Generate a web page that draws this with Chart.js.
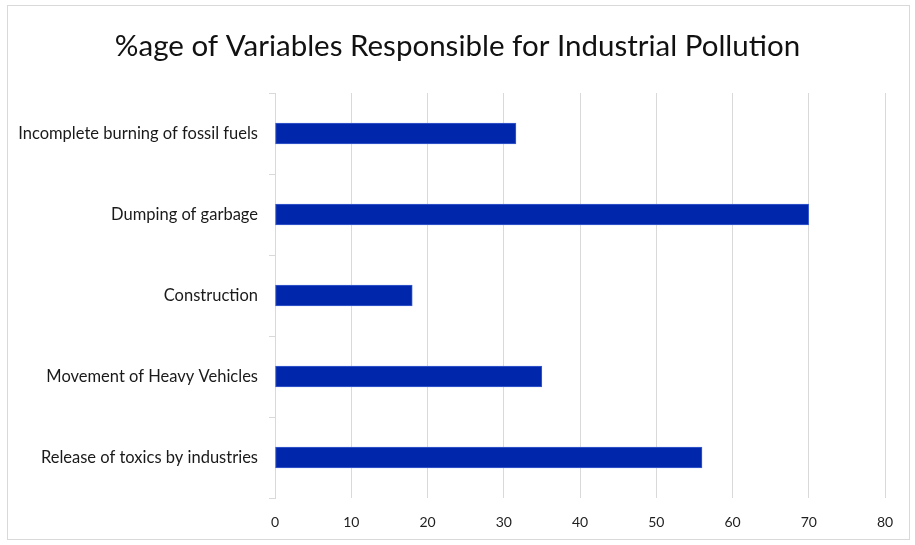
<!DOCTYPE html>
<html>
<head>
<meta charset="utf-8">
<script src="https://cdn.jsdelivr.net/npm/chart.js@4.4.1/dist/chart.umd.min.js"></script>
<style>
  html, body { margin: 0; padding: 0; background: #ffffff; }
  #wrap { position: relative; width: 915px; height: 545px; }
  #frame {
    position: absolute; left: 7px; top: 5px; width: 903px; height: 535px;
    border: 1px solid #d9d9d9; box-sizing: border-box;
  }
  #chart { position: absolute; left: 0; top: 0; }
</style>
</head>
<body>
<div id="wrap">
  <div id="frame"></div>
  <canvas id="chart" width="915" height="545"></canvas>
</div>
<script>
// categories top to bottom, as in the picture
const categories = [
  'Incomplete burning of fossil fuels',
  'Dumping of garbage',
  'Construction',
  'Movement of Heavy Vehicles',
  'Release of toxics by industries'
];
const percentages = [31.6, 70, 18, 35, 56];
const xTicks = [0, 10, 20, 30, 40, 50, 60, 70, 80];

const titleText = '%age of Variables Responsible for Industrial Pollution';
const fontFamily = 'Lato, "Open Sans", sans-serif';

new Chart(document.getElementById('chart'), {
  type: 'bar',
  data: {
    labels: categories,
    datasets: [{
      label: '%age',
      data: percentages,
      backgroundColor: '#0026ab',
      borderColor: '#3d5fcf',
      borderWidth: 1,
      borderSkipped: false,
      barThickness: 21
    }]
  },
  options: {
    indexAxis: 'y',
    responsive: false,
    animation: false,
    layout: { padding: 0 },
    plugins: {
      legend: { display: false },
      tooltip: { enabled: false },
      title: {
        display: true,
        text: titleText,
        color: '#111111',
        font: { family: fontFamily, size: 29.5, weight: 'normal' },
        padding: { top: 29, bottom: 28.6 }
      }
    },
    scales: {
      x: {
        min: xTicks[0],
        max: xTicks[xTicks.length - 1],
        afterBuildTicks: (scale) => { scale.ticks = xTicks.map(v => ({ value: v })); },
        afterFit: (scale) => { scale.height = 47; },
        grid: { color: '#d9d9d9', drawTicks: false },
        border: { display: false },
        ticks: {
          color: '#1f1f1f',
          padding: 16,
          font: { family: fontFamily, size: 14 }
        }
      },
      y: {
        afterFit: (scale) => { scale.width = 275; },
        grid: { drawOnChartArea: false, color: '#d9d9d9', tickLength: 6 },
        border: { display: true, color: '#d9d9d9' },
        ticks: {
          color: '#1a1a1a',
          padding: 11,
          font: { family: fontFamily, size: 16.5 }
        }
      },
      // empty right-hand strip, keeps the plot clear of the frame
      yRight: {
        type: 'linear',
        position: 'right',
        afterFit: (scale) => { scale.width = 30; },
        grid: { display: false },
        border: { display: false },
        ticks: { display: false }
      }
    }
  }
});
</script>
</body>
</html>
